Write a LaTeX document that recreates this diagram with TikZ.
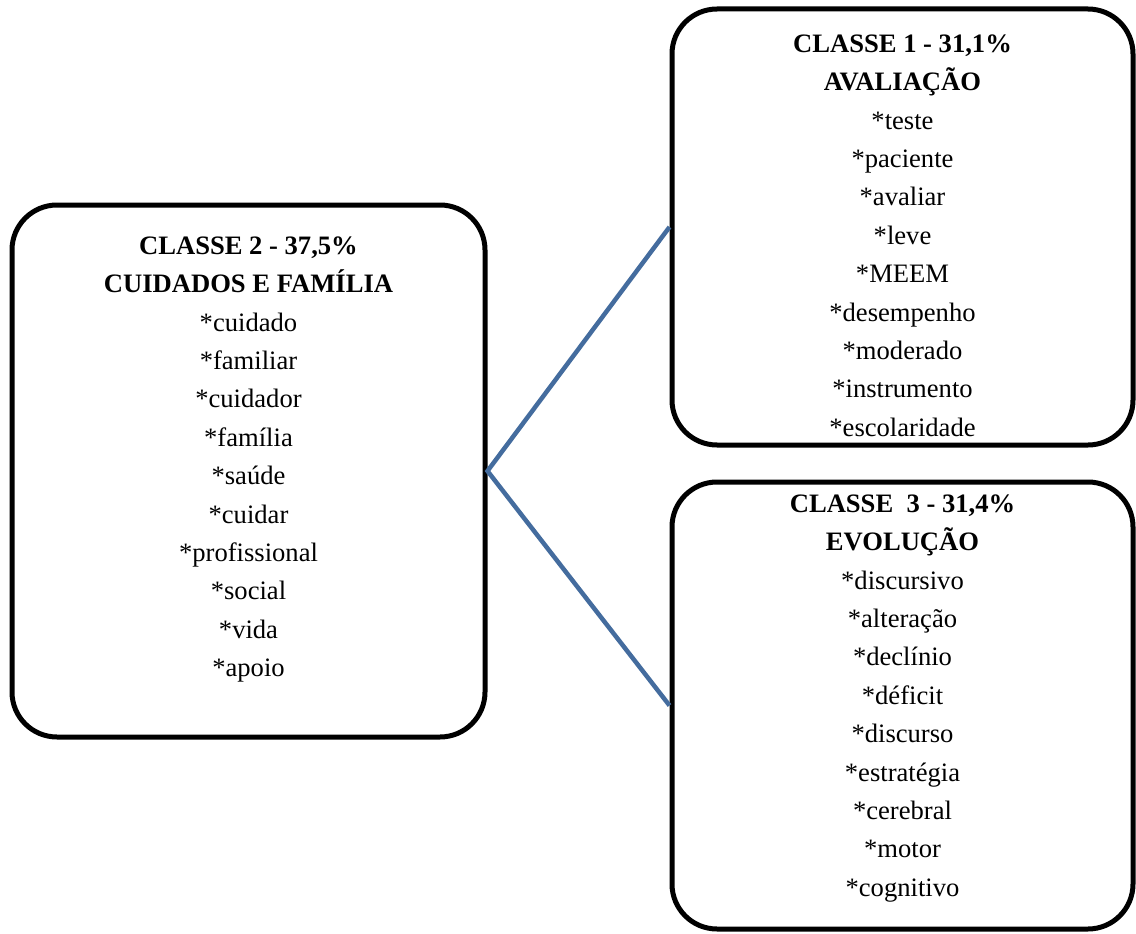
\documentclass[tikz,border=0pt]{standalone}
\usepackage{fontspec}
\setmainfont{Liberation Serif}
\usepackage{tikz}
\definecolor{linkblue}{RGB}{68,108,158}

\begin{document}
\begin{tikzpicture}[x=1pt, y=-1pt,
        classbox/.style={draw, line width=5pt, rounded corners=45pt, inner sep=0pt},
        words/.style={anchor=north, align=center, inner sep=0pt, font=\fontsize{26.6}{38.4}\selectfont},
        link/.style={draw=linkblue, line width=4.5pt}]
        \useasboundingbox (0,0) rectangle (1136,934);
        \node[classbox, minimum width=473, minimum height=532] (c2) at (248.5,471) {};
        \node[classbox, minimum width=461, minimum height=436] (c1) at (902.5,227) {};
        \node[classbox, minimum width=461, minimum height=447] (c3) at (902.5,705.5) {};
        \node[words] (t2) at ([yshift=-34pt]c2.north) {\textbf{CLASSE 2 - 37,5\%}\\ \textbf{CUIDADOS E FAMÍLIA}\\
                *cuidado\\ *familiar\\ *cuidador\\ *família\\ *saúde\\ *cuidar\\ *profissional\\ *social\\ *vida\\ *apoio};
        \node[words] (t1) at ([yshift=-28pt]c1.north) {\textbf{CLASSE 1 - 31,1\%}\\ \textbf{AVALIAÇÃO}\\
                *teste\\ *paciente\\ *avaliar\\ *leve\\ *MEEM\\ *desempenho\\ *moderado\\ *instrumento\\ *escolaridade};
        \node[words] (t3) at ([yshift=-15pt]c3.north) {\textbf{CLASSE~~3 - 31,4\%}\\ \textbf{EVOLUÇÃO}\\
                *discursivo\\ *alteração\\ *declínio\\ *déficit\\ *discurso\\ *estratégia\\ *cerebral\\ *motor\\ *cognitivo};
        \draw[link] (c1.west) -- (c2.east) -- (c3.west);
\end{tikzpicture}
\end{document}
